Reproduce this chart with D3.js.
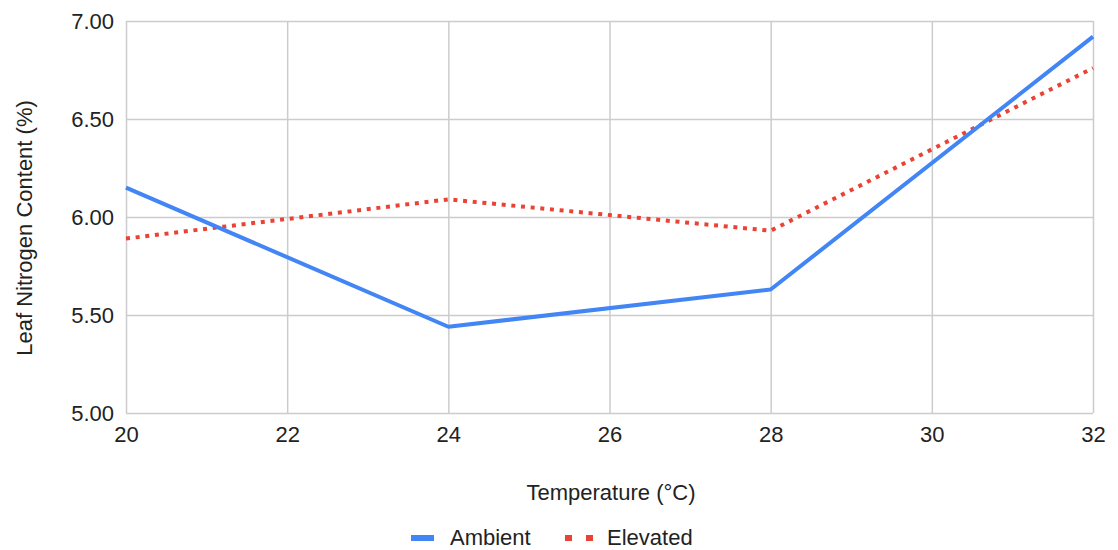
<!DOCTYPE html>
<html>
<head>
<meta charset="utf-8">
<script src="https://cdn.jsdelivr.net/npm/d3@7"></script>
<style>
  html, body { margin: 0; padding: 0; background: #fff; }
  svg { display: block; font-family: Arial, "Liberation Sans", sans-serif; }
</style>
</head>
<body>
<svg id="chart" width="1118" height="550"></svg>
<script>
// Leaf nitrogen content versus growth temperature
const temperatures = [20, 24, 28, 32];
const ambient = [6.15, 5.44, 5.63, 6.92];
const elevated = [5.89, 6.09, 5.93, 6.76];
const xTicks = [20, 22, 24, 26, 28, 30, 32];
const yTicks = [5.0, 5.5, 6.0, 6.5, 7.0];
const seriesNames = ["Ambient", "Elevated"];

const svg = d3.select("#chart");
const margin = { left: 126, right: 25, top: 21, bottom: 137 };
const W = 1118, H = 550;
const fontSize = 22;

const x = d3.scaleLinear().domain([20, 32]).range([margin.left, W - margin.right]);
const y = d3.scaleLinear().domain([5, 7]).range([H - margin.bottom, margin.top]);

const gridColor = "#cccccc";
const textColor = "#222222";

// horizontal gridlines + y labels
const yAxis = d3.axisLeft(y).tickValues(yTicks)
  .tickSize(-(x.range()[1] - x.range()[0]))
  .tickPadding(12)
  .tickFormat(d3.format(".2f"));
svg.append("g")
  .attr("transform", `translate(${margin.left},0)`)
  .call(yAxis)
  .call(g => g.select(".domain").remove())
  .call(g => g.selectAll(".tick line").attr("stroke", gridColor).attr("stroke-width", 1.5))
  .call(g => g.selectAll(".tick text").attr("fill", textColor).attr("font-size", fontSize).attr("dy", "0.35em"));

// vertical gridlines + x labels
const xAxis = d3.axisBottom(x).tickValues(xTicks)
  .tickSize(-(y.range()[0] - y.range()[1]))
  .tickPadding(13)
  .tickFormat(d3.format("d"));
svg.append("g")
  .attr("transform", `translate(0,${y.range()[0]})`)
  .call(xAxis)
  .call(g => g.select(".domain").remove())
  .call(g => g.selectAll(".tick line").attr("stroke", gridColor).attr("stroke-width", 1.5))
  .call(g => g.selectAll(".tick text").attr("fill", textColor).attr("font-size", fontSize));

// axis titles
svg.append("text")
  .attr("x", 611).attr("y", 500)
  .attr("text-anchor", "middle")
  .attr("fill", textColor).attr("font-size", fontSize)
  .text("Temperature (°C)");

svg.append("text")
  .attr("transform", "translate(32,228) rotate(-90)")
  .attr("text-anchor", "middle")
  .attr("fill", textColor).attr("font-size", fontSize)
  .text("Leaf Nitrogen Content (%)");

// series lines
const line = d3.line()
  .x((d, i) => x(temperatures[i]))
  .y(d => y(d));

svg.append("path")
  .datum(elevated)
  .attr("d", line)
  .attr("fill", "none")
  .attr("stroke", "#EA4335")
  .attr("stroke-width", 4)
  .attr("stroke-dasharray", "4,5.7");

svg.append("path")
  .datum(ambient)
  .attr("d", line)
  .attr("fill", "none")
  .attr("stroke", "#4285F4")
  .attr("stroke-width", 4)
  .attr("stroke-linejoin", "round");

// legend
const legend = svg.append("g");
legend.append("rect")
  .attr("x", 411).attr("y", 535).attr("width", 23).attr("height", 6)
  .attr("fill", "#4285F4");
legend.append("text")
  .attr("x", 450).attr("y", 545)
  .attr("fill", textColor).attr("font-size", fontSize)
  .text(seriesNames[0]);
[565, 586].forEach(px => {
  legend.append("rect")
    .attr("x", px).attr("y", 535).attr("width", 7).attr("height", 6)
    .attr("fill", "#EA4335");
});
legend.append("text")
  .attr("x", 607).attr("y", 545)
  .attr("fill", textColor).attr("font-size", fontSize)
  .text(seriesNames[1]);
</script>
</body>
</html>
